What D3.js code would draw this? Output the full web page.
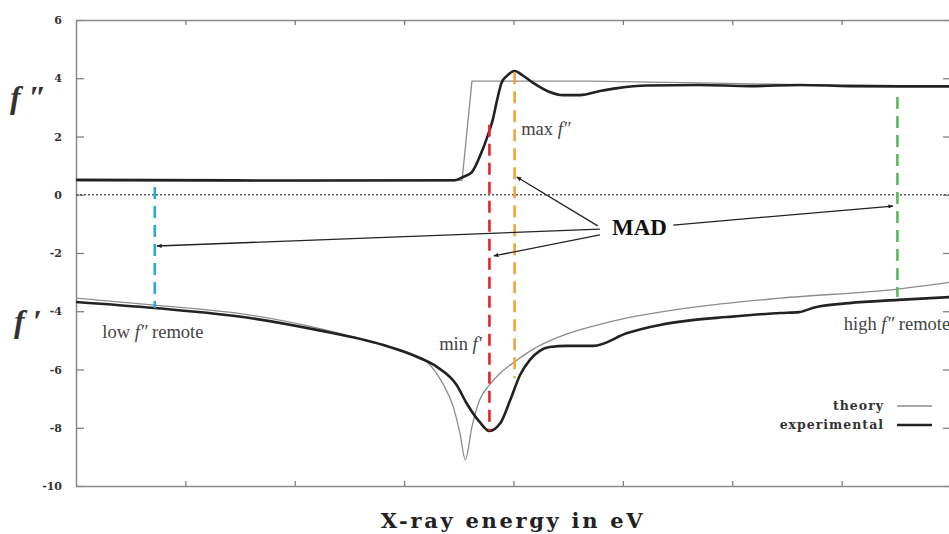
<!DOCTYPE html>
<html>
<head>
<meta charset="UTF-8">
<title>MAD: f' and f'' near an absorption edge</title>
<script src="https://d3js.org/d3.v7.min.js"></script>
<style>
  body { margin: 0; background: #fff; }
  svg { display: block; }
  .tick text { font-family: "DejaVu Serif", serif; font-weight: bold; font-size: 11px; fill: #333; }
  .ann { font-family: "Liberation Serif", "Times New Roman", serif; font-size: 18.5px; fill: #444; }
</style>
</head>
<body>
<svg></svg>
<script>
// energy is in tick units (0..8), values are electrons
const yTicks = [-10, -8, -6, -4, -2, 0, 2, 4, 6];
const xTicks = [1, 2, 3, 4, 5, 6, 7];

const theoryFpp = [[0,0.48],[3.46,0.48],[3.53,0.5],[3.62,3.9],[4.7,3.9],[5.7,3.84],[6.6,3.78],[8,3.73]];
const expFpp = [[0,0.51],[2.05,0.49],[3.46,0.5],[3.54,0.61],[3.62,0.78],[3.69,1.3],[3.76,1.98],[3.81,2.57],
  [3.85,3.25],[3.89,3.84],[3.94,4.08],[4.01,4.25],[4.08,4.11],[4.18,3.84],[4.33,3.53],[4.45,3.42],
  [4.61,3.42],[4.79,3.56],[4.95,3.66],[5.22,3.75],[5.7,3.77],[6.16,3.73],[6.62,3.77],[7.07,3.73],[7.53,3.72],[8,3.72]];
const theoryFp = [[0,-3.55],[0.72,-3.79],[1.59,-4.13],[2.2,-4.57],[2.81,-5.16],[3.05,-5.43],[3.21,-5.74],
  [3.35,-6.46],[3.45,-7.29],[3.51,-8.18],[3.56,-9.1],[3.62,-7.97],[3.69,-7.05],[3.78,-6.53],[3.88,-6.12],
  [4.01,-5.74],[4.18,-5.3],[4.33,-5.02],[4.49,-4.78],[4.73,-4.51],[5.04,-4.23],[5.34,-4.03],[5.8,-3.79],
  [6.44,-3.55],[7.51,-3.24],[8,-3.0]];
const expFp = [[0,-3.68],[0.72,-3.89],[1.59,-4.23],[2.2,-4.64],[2.81,-5.16],[3.12,-5.57],[3.3,-5.91],
  [3.48,-6.53],[3.57,-7.15],[3.69,-7.8],[3.78,-8.11],[3.88,-7.84],[3.97,-7.05],[4.06,-6.19],[4.15,-5.67],
  [4.24,-5.36],[4.33,-5.23],[4.49,-5.19],[4.73,-5.19],[5.04,-4.75],[5.34,-4.47],[5.58,-4.33],[5.95,-4.2],
  [6.44,-4.06],[6.61,-4.03],[6.76,-3.86],[7.07,-3.72],[7.52,-3.61],[8,-3.51]];

// wavelengths picked for the experiment: energy, top and bottom of the dashed line
const markerX = [0.72, 3.78, 4.01, 7.51];
const markerTop = [0.27, 2.4, 4.21, 3.36];
const markerBottom = [-3.89, -8.11, -6.3, -3.51];
const markerColors = ["#2aa9dd", "#e3242b", "#f2a33a", "#5cb85c"];

// MAD arrows: start near the label, end on the dashed lines
const arrowFrom = [[4.79,-1.18],[4.77,-1.07],[4.79,-1.38],[5.46,-1.04]];
const arrowTo = [[0.74,-1.76],[4.03,0.61],[3.82,-2.1],[7.47,-0.39]];

const legendNames = ["theory", "experimental"];

let width = 949, height = 534;
let svg = d3.select("svg").attr("width", width).attr("height", height);

let x = d3.scaleLinear().domain([0, 8]).range([76, 951]);
let y = d3.scaleLinear().domain([-10, 6]).range([486, 20]);

// axes, ticks pointing inward
let axisStyle = g => {
  g.selectAll(".domain").attr("stroke", "#8a8a8a").attr("stroke-width", 1.5);
  g.selectAll(".tick line").attr("stroke", "#777").attr("stroke-width", 1.2);
};
svg.append("g").attr("transform", `translate(${x(0)},0)`)
  .call(d3.axisLeft(y).tickValues(yTicks).tickSize(-8).tickPadding(14).tickSizeOuter(0)
    .tickFormat(d => String(d)))
  .call(axisStyle);
svg.append("g").attr("transform", `translate(${x(8)},0)`)
  .call(d3.axisRight(y).tickValues(yTicks).tickSize(-8).tickFormat("").tickSizeOuter(0))
  .call(axisStyle);
svg.append("g").attr("transform", `translate(0,${y(-10)})`)
  .call(d3.axisBottom(x).tickValues(xTicks).tickSize(-5).tickFormat("").tickSizeOuter(0))
  .call(axisStyle);
svg.append("g").attr("transform", `translate(0,${y(6)})`)
  .call(d3.axisTop(x).tickValues(xTicks).tickSize(-5).tickFormat("").tickSizeOuter(0))
  .call(axisStyle);

// zero line
svg.append("line")
  .attr("x1", x(0)).attr("x2", x(8)).attr("y1", y(0)).attr("y2", y(0))
  .attr("stroke", "#555").attr("stroke-width", 1.3).attr("stroke-dasharray", "2,2");

// curves
let line = d3.line().x(d => x(d[0])).y(d => y(d[1])).curve(d3.curveMonotoneX);
let lineStep = d3.line().x(d => x(d[0])).y(d => y(d[1]));

svg.append("path").datum(theoryFpp).attr("d", lineStep)
  .attr("fill", "none").attr("stroke", "#8c8c8c").attr("stroke-width", 1.3);
svg.append("path").datum(theoryFp).attr("d", line)
  .attr("fill", "none").attr("stroke", "#8c8c8c").attr("stroke-width", 1.3);
svg.append("path").datum(expFpp).attr("d", line)
  .attr("fill", "none").attr("stroke", "#222").attr("stroke-width", 2.6);
svg.append("path").datum(expFp).attr("d", line)
  .attr("fill", "none").attr("stroke", "#222").attr("stroke-width", 2.6);

// dashed wavelength markers
svg.append("g").selectAll("line")
  .data(markerX)
  .enter()
  .append("line")
  .attr("x1", d => x(d)).attr("x2", d => x(d))
  .attr("y1", (d, i) => y(markerTop[i]))
  .attr("y2", (d, i) => y(markerBottom[i]))
  .attr("stroke", (d, i) => markerColors[i])
  .attr("stroke-width", 2.6)
  .attr("stroke-dasharray", "12,7");

// arrows
svg.append("defs").append("marker")
  .attr("id", "head")
  .attr("viewBox", "0 0 10 10")
  .attr("refX", 9).attr("refY", 5)
  .attr("markerWidth", 4).attr("markerHeight", 4)
  .attr("orient", "auto")
  .append("path").attr("d", "M0,1 L10,5 L0,9 Z").attr("fill", "#222");

svg.append("g").selectAll("line")
  .data(arrowFrom)
  .enter()
  .append("line")
  .attr("x1", d => x(d[0])).attr("y1", d => y(d[1]))
  .attr("x2", (d, i) => x(arrowTo[i][0])).attr("y2", (d, i) => y(arrowTo[i][1]))
  .attr("stroke", "#222").attr("stroke-width", 1.3)
  .attr("marker-end", "url(#head)");

svg.append("text")
  .attr("x", x(4.9)).attr("y", y(-1.38))
  .attr("font-family", "'Liberation Serif', 'Times New Roman', serif")
  .attr("font-weight", "bold").attr("font-size", 23).attr("fill", "#111")
  .text("MAD");

// annotation labels (plain text + italic f with primes)
function ann(px, py, before, primes, after) {
  let t = svg.append("text").attr("class", "ann").attr("x", px).attr("y", py);
  t.append("tspan").text(before);
  t.append("tspan").attr("font-style", "italic").text("f" + primes);
  if (after) t.append("tspan").text(after);
}
ann(x(0.24), y(-4.91), "low ", "\u2033", " remote");
ann(x(3.32), y(-5.32), "min ", "\u2032", "");
ann(x(4.07), y(2.05), "max ", "\u2033", "");
ann(x(7.02), y(-4.64), "high ", "\u2033", " remote");

// y-axis symbols
svg.append("text")
  .attr("x", 10).attr("y", 108)
  .attr("font-family", "'Liberation Serif', serif").attr("font-style", "italic").attr("font-weight", "bold")
  .attr("font-size", 32).attr("fill", "#333")
  .text("f \u2033");
svg.append("text")
  .attr("x", 14).attr("y", 332)
  .attr("font-family", "'Liberation Serif', serif").attr("font-style", "italic").attr("font-weight", "bold")
  .attr("font-size", 32).attr("fill", "#333")
  .text("f \u2032");

// x-axis title
svg.append("text")
  .attr("x", 513).attr("y", 528)
  .attr("text-anchor", "middle")
  .attr("font-family", "'DejaVu Serif', serif").attr("font-weight", "bold")
  .attr("font-size", 21).attr("letter-spacing", 2.7).attr("fill", "#222")
  .text("X-ray energy in eV");

// legend
let legend = svg.append("g").selectAll("g")
  .data(legendNames)
  .enter()
  .append("g")
  .attr("transform", (d, i) => `translate(0,${406 + i * 19})`);
legend.append("text")
  .attr("x", 884).attr("y", 4)
  .attr("text-anchor", "end")
  .attr("font-family", "'DejaVu Serif', serif").attr("font-weight", "bold")
  .attr("font-size", 12.5).attr("letter-spacing", 1).attr("fill", "#333")
  .text(d => d);
legend.append("line")
  .attr("x1", 897).attr("x2", 932)
  .attr("stroke", (d, i) => i == 0 ? "#8c8c8c" : "#222")
  .attr("stroke-width", (d, i) => i == 0 ? 1.3 : 2.6);
</script>
</body>
</html>
